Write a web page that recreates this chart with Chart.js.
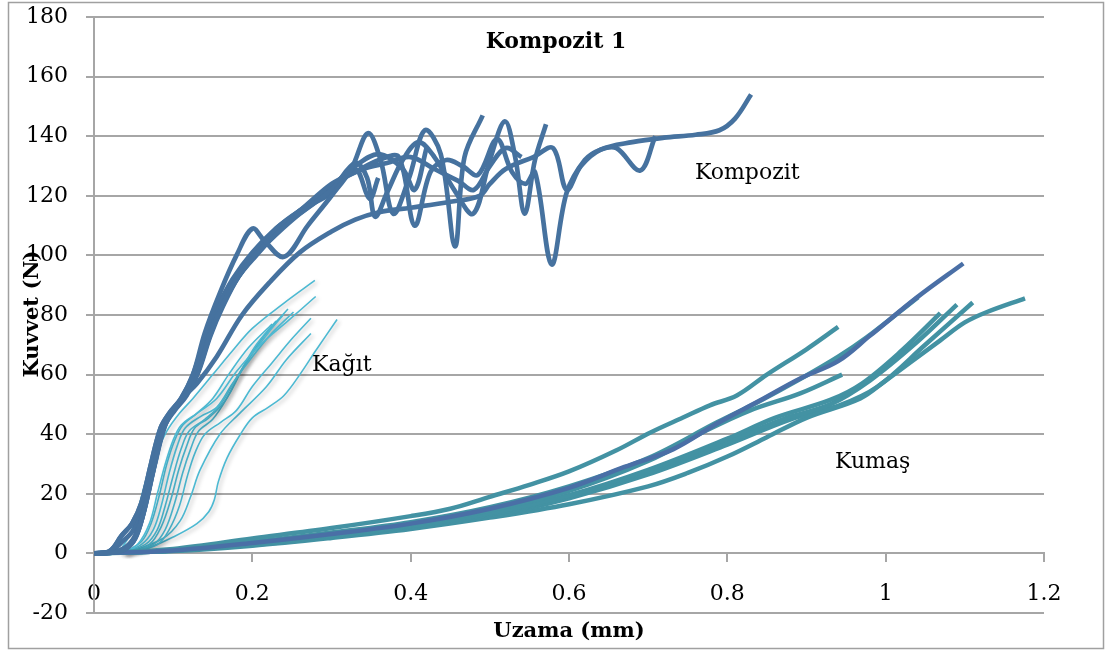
<!DOCTYPE html>
<html><head><meta charset="utf-8">
<script src="https://cdn.jsdelivr.net/npm/chart.js@4.4.1/dist/chart.umd.min.js"></script>
<style>html,body{margin:0;padding:0;background:#fff;}#wrap{width:1112px;height:652px;position:relative;}</style>
</head><body><div id="wrap"><canvas id="c" width="1112" height="652"></canvas></div>
<script>
// ---- tick labels ----
const xTickLabels = ['0','0.2','0.4','0.6','0.8','1','1.2'];
const yTickLabels = ['-20','0','20','40','60','80','100','120','140','160','180'];

// ---- Kompozit curves [uzama mm, kuvvet N] ----
const kompozit1 = [[0,0],[0.025,0.3],[0.04,1.5],[0.052,5],[0.062,13],[0.075,28],[0.088,42],[0.1,48],[0.115,53],[0.13,57],[0.155,66],[0.187,80],[0.222,91],[0.26,101],[0.3,108],[0.33,112],[0.36,114.5],[0.4,116],[0.45,118],[0.487,120],[0.5,124],[0.52,129],[0.555,133],[0.58,136],[0.597,122],[0.615,130],[0.64,135.5],[0.68,138],[0.72,139.5],[0.76,140.5],[0.79,142],[0.81,146],[0.83,154]];
const kompozit2 = [[0,0],[0.02,0.8],[0.035,6],[0.048,10],[0.06,17],[0.072,30],[0.084,42],[0.095,47],[0.11,52],[0.125,60],[0.14,74],[0.16,88],[0.18,100],[0.2,109],[0.215,105],[0.24,99.5],[0.27,110],[0.3,120],[0.325,129],[0.346,141],[0.362,132],[0.378,114],[0.398,126],[0.418,142],[0.438,134],[0.456,103],[0.468,133],[0.491,147]];
const kompozit3 = [[0,0],[0.025,0.3],[0.04,1.5],[0.052,5],[0.062,13],[0.075,28],[0.088,42],[0.1,48],[0.115,53],[0.13,60],[0.145,72],[0.16,82],[0.18,92],[0.2,99],[0.23,107],[0.26,114],[0.3,122],[0.33,131],[0.345,126],[0.355,113],[0.37,121],[0.39,132],[0.41,138],[0.43,133],[0.455,122],[0.479,114],[0.5,132],[0.519,145],[0.532,133],[0.544,114],[0.557,132],[0.571,144]];
const kompozit4 = [[0,0],[0.02,0.8],[0.035,6],[0.048,10],[0.06,17],[0.072,30],[0.084,42],[0.095,47],[0.11,52],[0.125,60],[0.14,72],[0.155,82],[0.175,92],[0.2,101],[0.23,109],[0.26,115],[0.3,124],[0.33,128],[0.36,132],[0.385,133],[0.405,110],[0.425,128],[0.445,132],[0.465,130],[0.485,127],[0.509,139],[0.528,128],[0.545,124],[0.557,128],[0.578,97],[0.597,121],[0.62,132],[0.64,135.5],[0.66,136],[0.69,128.5],[0.709,140]];
const kompozit5 = [[0,0],[0.025,0.5],[0.04,2],[0.052,6],[0.062,14],[0.075,29],[0.087,42],[0.098,47],[0.113,52],[0.128,59],[0.143,71],[0.158,81],[0.178,91],[0.2,99],[0.23,108],[0.26,115],[0.3,123],[0.33,130],[0.36,134],[0.39,129],[0.405,122],[0.42,136]];
const kompozit6 = [[0,0],[0.02,0.6],[0.036,4],[0.05,8],[0.061,16],[0.073,29],[0.086,42],[0.097,47],[0.112,52],[0.127,60],[0.142,72],[0.157,82],[0.177,92],[0.2,100],[0.23,109],[0.26,115],[0.3,121],[0.33,129],[0.348,119],[0.359,126]];
const kompozit7 = [[0,0],[0.025,0.4],[0.04,2],[0.053,6],[0.064,15],[0.077,30],[0.09,43],[0.102,48],[0.117,53],[0.132,61],[0.147,73],[0.163,83],[0.183,93],[0.205,100],[0.24,110],[0.28,118],[0.31,125],[0.34,129],[0.37,131],[0.4,133],[0.43,129],[0.46,125],[0.48,122],[0.5,130],[0.52,136],[0.54,133]];

// ---- Kağıt curves ----
const kagit1 = [[0.03,0],[0.045,6],[0.055,14],[0.065,24],[0.078,33],[0.092,41],[0.108,47],[0.125,52],[0.15,60],[0.175,68],[0.2,75.5],[0.24,84],[0.279,91.6]];
const kagit2 = [[0.035,0],[0.055,3],[0.07,10],[0.08,20],[0.09,30],[0.1,38],[0.11,43],[0.13,47],[0.155,52],[0.18,61],[0.21,70],[0.245,78],[0.28,86.2]];
const kagit3 = [[0.035,0],[0.06,3],[0.075,8],[0.085,16],[0.095,27],[0.105,36],[0.115,42],[0.135,46],[0.155,49],[0.175,57],[0.2,66],[0.225,74],[0.252,81]];
const kagit4 = [[0.035,0],[0.065,3],[0.08,8],[0.09,16],[0.1,26],[0.11,35],[0.12,41],[0.14,45],[0.16,50],[0.18,59],[0.2,67],[0.22,74],[0.239,80]];
const kagit5 = [[0.04,0],[0.07,3],[0.085,9],[0.097,18],[0.107,28],[0.117,36],[0.127,42],[0.145,45.5],[0.165,51],[0.185,61],[0.205,70],[0.23,78]];
const kagit6 = [[0.04,0],[0.075,3],[0.09,8],[0.102,17],[0.112,27],[0.122,35],[0.132,41],[0.15,45],[0.17,53],[0.19,63],[0.215,73],[0.245,82]];
const kagit7 = [[0.04,0],[0.08,3],[0.095,8],[0.108,16],[0.118,26],[0.128,34],[0.14,40],[0.16,44],[0.18,48],[0.2,56],[0.225,64],[0.25,72],[0.274,78.9]];
const kagit8 = [[0.04,0],[0.087,5],[0.109,11],[0.122,19],[0.134,28],[0.159,40],[0.184,47],[0.218,56],[0.243,65],[0.274,73.8]];
const kagit9 = [[0.04,0],[0.07,2],[0.1,5.5],[0.13,10],[0.145,14],[0.152,18],[0.157,24],[0.168,32],[0.185,40],[0.2,45.5],[0.22,49],[0.24,53],[0.26,60],[0.28,68],[0.307,78.5]];
const kagit10 = [[0.035,0],[0.06,4],[0.072,10],[0.082,19],[0.092,30],[0.102,38],[0.112,43],[0.13,47],[0.15,52],[0.17,60],[0.195,69],[0.225,77]];

// ---- Kumaş curves ----
const kumas1 = [[0,0],[0.1,1.5],[0.2,5],[0.3,8.5],[0.4,12.5],[0.45,15],[0.5,19],[0.55,23],[0.6,27.5],[0.66,34.6],[0.703,40.6],[0.744,45.6],[0.778,49.7],[0.812,53],[0.85,60],[0.9,68.5],[0.94,76]];
const kumas2 = [[0,0],[0.1,1],[0.2,3.5],[0.3,6.5],[0.4,10],[0.5,15],[0.6,22],[0.67,29],[0.732,35],[0.787,43.6],[0.841,51.3],[0.892,58.7],[0.94,64.5],[0.98,73],[1.04,86],[1.098,97.3]];
const kumas3 = [[0,0],[0.1,1.1],[0.2,3.8],[0.3,7],[0.4,10.5],[0.5,15.5],[0.6,22.5],[0.7,32],[0.787,44],[0.84,51],[0.892,58.5],[0.94,66],[0.976,72.5],[1.041,86]];
const kumas4 = [[0,0],[0.1,1],[0.2,3.5],[0.3,6.3],[0.4,9.8],[0.5,14.5],[0.6,21],[0.7,31],[0.774,41.3],[0.829,48],[0.892,53.7],[0.945,60]];
const kumas5 = [[0,0],[0.1,1],[0.2,3.2],[0.3,6],[0.4,9.3],[0.5,13.5],[0.6,19.5],[0.7,28],[0.8,38.5],[0.86,45.5],[0.93,51.5],[0.97,57],[1.02,68],[1.069,80.6]];
const kumas6 = [[0,0],[0.1,1],[0.2,3],[0.3,5.8],[0.4,9],[0.5,13],[0.6,19],[0.7,27.5],[0.8,37.5],[0.87,45],[0.93,50],[0.98,58],[1.04,71],[1.09,83.5]];
const kumas7 = [[0,0],[0.1,0.9],[0.2,2.8],[0.3,5.5],[0.4,8.7],[0.5,12.5],[0.6,18.5],[0.7,26.5],[0.8,36.5],[0.88,45],[0.94,49.5],[0.99,56],[1.05,70],[1.11,84.2]];
const kumas8 = [[0,0],[0.1,0.8],[0.2,2.6],[0.3,5.2],[0.4,8.2],[0.5,12],[0.6,16.5],[0.7,22.5],[0.75,27],[0.8,32.5],[0.85,39],[0.9,45.5],[0.968,52],[1.0,58],[1.069,71.5],[1.1,77.5],[1.128,81],[1.176,85.6]];

// ---- labels placed in the plot ----
const annotations = [
  {text:'Kompozit', x:0.759, y:127.5},
  {text:'Kağıt', x:0.2754, y:63},
  {text:'Kumaş', x:0.936, y:30.5}
];

const C_KOMP = '#46729f', C_KAGIT = '#4cb9d2', C_KUMAS = '#4392a3', C_KUMAS_DARK = '#4a6fa6';
const GRID = '#a6a6a6';
const SERIF = '"DejaVu Serif", "Liberation Serif", serif';

function line(pts, color, w, group) {
  return {data: pts.map(p => ({x:p[0], y:p[1]})), borderColor: color, borderWidth: w,
    pointRadius: 0, pointHoverRadius: 0, tension: 0.35, fill: false, group: group,
    borderJoinStyle: 'round'};
}
const datasets = [];
[kompozit1,kompozit2,kompozit3,kompozit4,kompozit5,kompozit6,kompozit7].forEach(p => datasets.push(line(p, C_KOMP, 4.7, 'komp')));
datasets.push(line(kumas2, C_KUMAS_DARK, 4.5, 'kumas'));
[kumas1,kumas3,kumas4,kumas5,kumas6,kumas7,kumas8].forEach(p => datasets.push(line(p, C_KUMAS, 4.5, 'kumas')));
[kagit1,kagit2,kagit3,kagit4,kagit5,kagit6,kagit7,kagit8,kagit9,kagit10].forEach(p => datasets.push(line(p, C_KAGIT, 1.6, 'kagit')));

const shadowPlugin = {
  id: 'shadow',
  beforeDatasetDraw(chart, args) {
    const ds = chart.data.datasets[args.index];
    const ctx = chart.ctx;
    ctx.save();
    if (ds.group === 'kagit') {
      ctx.shadowColor = 'rgba(0,0,0,0.28)'; ctx.shadowBlur = 4; ctx.shadowOffsetX = 2; ctx.shadowOffsetY = 2;
    }
  },
  afterDatasetDraw(chart) { chart.ctx.restore(); }
};

const textPlugin = {
  id: 'texts',
  afterDraw(chart) {
    const ctx = chart.ctx, ca = chart.chartArea, xs = chart.scales.x, ys = chart.scales.y;
    ctx.save();
    ctx.strokeStyle = '#a0a0a0'; ctx.lineWidth = 1.5;
    ctx.strokeRect(8.5, 2.5, 1095, 646);
    ctx.fillStyle = '#000';
    ctx.textBaseline = 'middle';
    ctx.textAlign = 'center';
    ctx.font = 'bold 22px ' + SERIF;
    ctx.fillText('Kompozit 1', 556, 42);
    ctx.font = 'bold 21px ' + SERIF;
    ctx.fillText('Uzama (mm)', (ca.left + ca.right) / 2, 632);
    ctx.save();
    ctx.translate(33, 314);
    ctx.rotate(-Math.PI / 2);
    ctx.fillText('Kuvvet (N)', 0, 0);
    ctx.restore();
    ctx.textAlign = 'left';
    ctx.font = '22px ' + SERIF;
    annotations.forEach(a => ctx.fillText(a.text, xs.getPixelForValue(a.x), ys.getPixelForValue(a.y)));
    ctx.restore();
  }
};

new Chart(document.getElementById('c'), {
  type: 'line',
  data: {datasets},
  options: {
    responsive: false, animation: false, devicePixelRatio: 1,
    layout: {padding: {left: 0, top: 17, right: 68, bottom: 39}},
    plugins: {legend: {display: false}, tooltip: {enabled: false}, title: {display: false}},
    events: [],
    scales: {
      x: {
        type: 'linear', min: 0, max: 1.2, position: {y: 0},
        afterFit: s => { s.paddingTop = 0; s.paddingBottom = 0; },
        ticks: {stepSize: 0.2, autoSkip: false, maxRotation: 0, padding: 20, color: '#000',
          font: {family: SERIF, size: 22}, callback: (v, i) => xTickLabels[i]},
        grid: {drawOnChartArea: false, drawTicks: true, tickLength: 8, color: GRID, lineWidth: 2},
        border: {display: true, color: GRID, width: 2}
      },
      y: {
        type: 'linear', min: -20, max: 180,
        afterFit: s => { s.width = 94; s.paddingTop = 0; s.paddingBottom = 0; },
        ticks: {stepSize: 20, autoSkip: false, padding: 18, color: '#000',
          font: {family: SERIF, size: 22}, callback: (v, i) => yTickLabels[i]},
        grid: {drawTicks: true, tickLength: 8, color: GRID, lineWidth: 2},
        border: {display: true, color: GRID, width: 2}
      }
    }
  },
  plugins: [shadowPlugin, textPlugin]
});
</script></body></html>
